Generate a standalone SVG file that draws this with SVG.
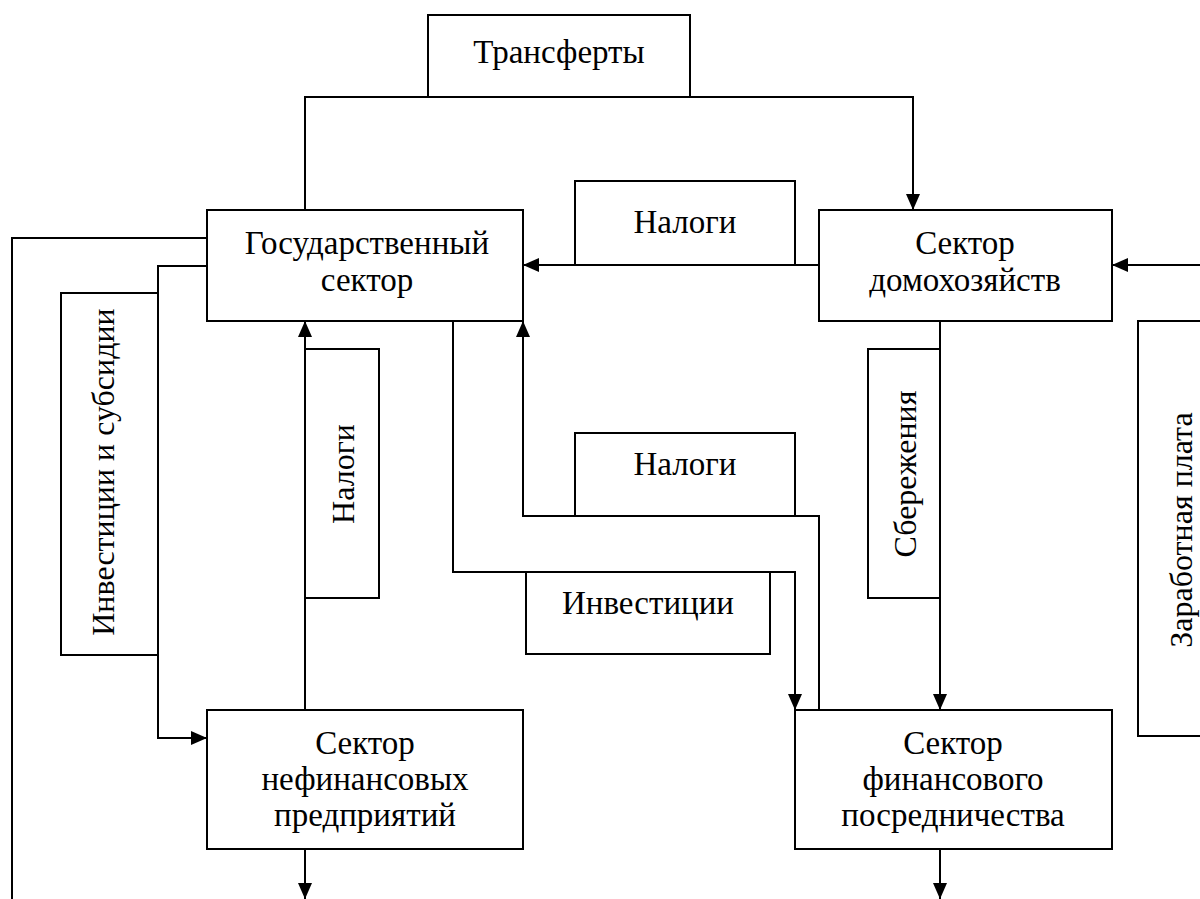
<svg xmlns="http://www.w3.org/2000/svg" width="1200" height="899" viewBox="0 0 1200 899">
  <style>
    .box { fill: #fff; stroke: #000; stroke-width: 2; }
    .ln { fill: none; stroke: #000; stroke-width: 2; }
    text { font-family: "Liberation Serif", "Times New Roman", serif; font-size: 33px; fill: #000; text-anchor: middle; }
    .v { font-size: 32px; }
  </style>
  <defs>
    <marker id="ah" viewBox="0 0 16 14" refX="16" refY="7" markerWidth="16" markerHeight="14" markerUnits="userSpaceOnUse" orient="auto">
      <path d="M0,0 L16,7 L0,14 Z" fill="#000"/>
    </marker>
  </defs>
  <rect width="1200" height="899" fill="#fff"/>

  <!-- flow label boxes -->
  <g id="transfers">
    <rect class="box" x="428" y="15" width="262" height="82"/>
    <text x="559" y="63">Трансферты</text>
  </g>
  <g id="taxes-top">
    <rect class="box" x="575" y="181" width="220" height="84"/>
    <text x="685" y="233">Налоги</text>
  </g>
  <g id="taxes-mid">
    <rect class="box" x="575" y="433" width="220" height="83"/>
    <text x="685" y="475">Налоги</text>
  </g>
  <g id="investments">
    <rect class="box" x="526" y="572" width="244" height="82"/>
    <text x="648" y="614">Инвестиции</text>
  </g>
  <g id="invest-subsidies">
    <rect class="box" x="61" y="293" width="97" height="362"/>
    <text class="v" transform="translate(114,472) rotate(-90)">Инвестиции и субсидии</text>
  </g>
  <g id="taxes-vert">
    <rect class="box" x="305" y="349" width="74" height="249"/>
    <text class="v" transform="translate(354,474) rotate(-90)">Налоги</text>
  </g>
  <g id="savings">
    <rect class="box" x="868" y="349" width="72" height="249"/>
    <text class="v" transform="translate(916,474) rotate(-90)">Сбережения</text>
  </g>
  <g id="wages">
    <rect class="box" x="1138" y="321" width="80" height="415"/>
    <text class="v" transform="translate(1192,530) rotate(-90)">Заработная плата</text>
  </g>

  <!-- sector nodes -->
  <g id="government">
    <rect class="box" x="207" y="210" width="316" height="111"/>
    <text x="367" y="254">Государственный</text>
    <text x="367" y="291">сектор</text>
  </g>
  <g id="households">
    <rect class="box" x="819" y="210" width="293" height="111"/>
    <text x="965" y="254">Сектор</text>
    <text x="965" y="291">домохозяйств</text>
  </g>
  <g id="nonfinancial">
    <rect class="box" x="207" y="710" width="316" height="139"/>
    <text x="365" y="754">Сектор</text>
    <text x="365" y="790">нефинансовых</text>
    <text x="365" y="826">предприятий</text>
  </g>
  <g id="financial">
    <rect class="box" x="795" y="710" width="317" height="139"/>
    <text x="953" y="754">Сектор</text>
    <text x="953" y="790">финансового</text>
    <text x="953" y="826">посредничества</text>
  </g>

  <!-- connectors -->
  <g id="connectors">
    <path class="ln" d="M305,210 V97 H913 V210" marker-end="url(#ah)"/>
    <path class="ln" d="M819,265 H523" marker-end="url(#ah)"/>
    <path class="ln" d="M1200,265 H1112" marker-end="url(#ah)"/>
    <path class="ln" d="M207,238 H12 V899"/>
    <path class="ln" d="M207,266 H158 V738 H207" marker-end="url(#ah)"/>
    <path class="ln" d="M305,710 V321" marker-end="url(#ah)"/>
    <path class="ln" d="M819,710 V516 H523 V321" marker-end="url(#ah)"/>
    <path class="ln" d="M453,321 V572 H795 V710" marker-end="url(#ah)"/>
    <path class="ln" d="M940,321 V710" marker-end="url(#ah)"/>
    <path class="ln" d="M305,849 V899" marker-end="url(#ah)"/>
    <path class="ln" d="M940,849 V899" marker-end="url(#ah)"/>
  </g>
</svg>
